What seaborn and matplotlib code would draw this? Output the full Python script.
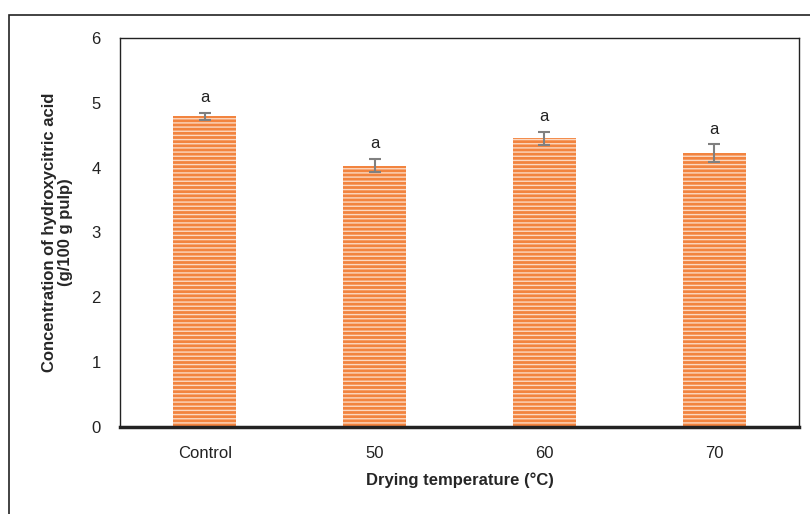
import matplotlib
matplotlib.use("Agg")
import matplotlib.pyplot as plt
import seaborn as sns
import pandas as pd
from matplotlib.patches import Rectangle

categories = ["Control", "50", "60", "70"]
values = [4.79, 4.03, 4.45, 4.22]
errors = [0.06, 0.10, 0.10, 0.14]
letters = ["a", "a", "a", "a"]

sns.set_style("white")
plt.rcParams['font.family'] = ['Liberation Sans', 'DejaVu Sans']
plt.rcParams['hatch.linewidth'] = 1.0

df = pd.DataFrame({"cat": categories, "val": values})
fig = plt.figure(figsize=(8.1, 5.14), dpi=100)
ax = fig.add_axes([120/810, 1-427/514, 679/810, 389/514])

sns.barplot(data=df, x="cat", y="val", color="#F2843F", width=0.37, ax=ax,
            errorbar=None, saturation=1)
for p in ax.patches:
    p.set_hatch("----")
    p.set_edgecolor("#FCD9C2")
    p.set_linewidth(0)

x = range(len(categories))
ax.errorbar(x, values, yerr=errors, fmt="none", ecolor="#808080",
            elinewidth=1.5, capsize=4, capthick=1.5)
for i, (v, e, l) in enumerate(zip(values, errors, letters)):
    ax.text(i, v + e + 0.12, l, ha="center", va="bottom", fontsize=12, color="#222222")

ax.set_ylim(0, 6)
ax.set_xlim(-0.5, 3.5)
ax.set_yticks(range(0, 7))
ax.tick_params(axis="both", length=0, labelsize=12, colors="#222222")
ax.tick_params(axis="x", pad=14)
ax.tick_params(axis="y", pad=14)
for s in ax.spines.values():
    s.set_visible(True)
    s.set_color("#222222")
    s.set_linewidth(1.0)
ax.spines["bottom"].set_linewidth(2.5)
ax.set_xlabel("Drying temperature (°C)", fontsize=12, fontweight="bold", labelpad=8)
ax.set_ylabel("Concentration of hydroxycitric acid\n(g/100 g pulp)", fontsize=12,
              fontweight="bold", labelpad=13, linespacing=1.1)

fig.patches.append(Rectangle((9/810, -0.1), 1.2, 1 - 15/514 + 0.1,
                             transform=fig.transFigure, fill=False,
                             edgecolor="#222222", linewidth=1.2, clip_on=False))
fig.savefig("out.png", dpi=100)
